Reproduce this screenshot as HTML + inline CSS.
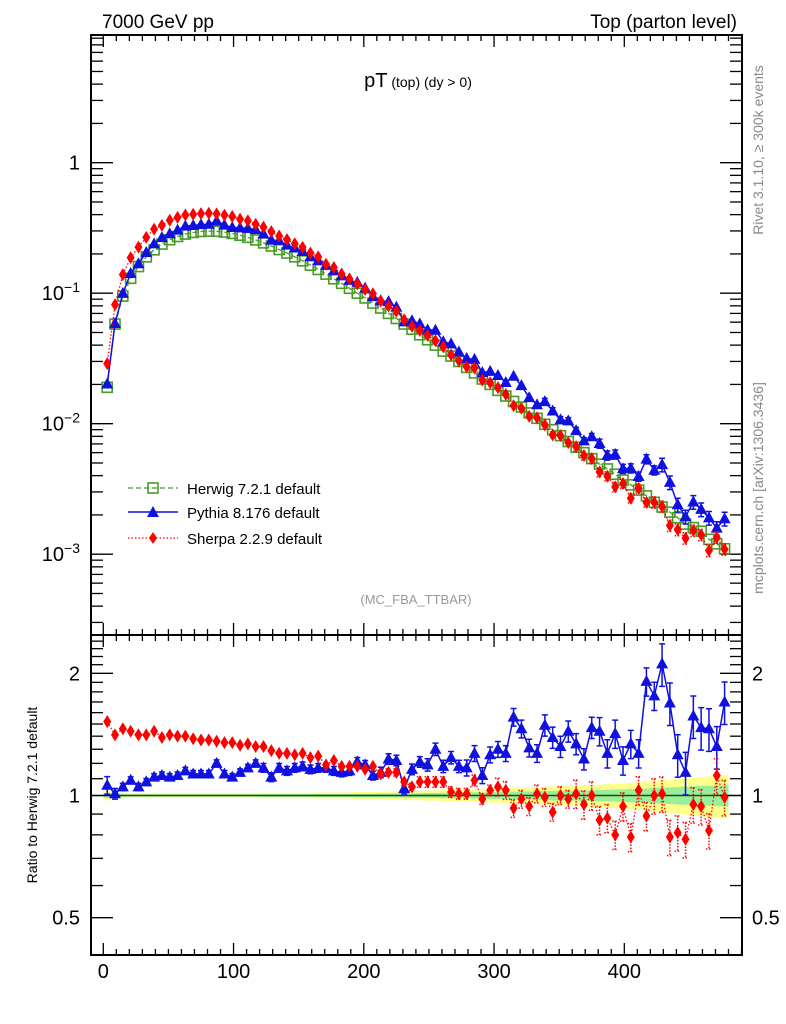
<!DOCTYPE html>
<html><head><meta charset="utf-8"><style>
body{margin:0;background:#fff;}
svg{display:block;font-family:"Liberation Sans",sans-serif;}
</style></head><body>
<svg id="plot" width="786" height="1024" viewBox="0 0 786 1024">
<defs>
<clipPath id="cm"><rect x="91" y="35" width="651" height="600"/></clipPath>
<clipPath id="cr"><rect x="91" y="635" width="651" height="320"/></clipPath>
</defs>
<g id="bands" clip-path="url(#cr)"></g>
<g id="ticks"></g>
<rect x="91" y="35" width="651" height="600" fill="none" stroke="#000" stroke-width="2"/>
<rect x="91" y="635" width="651" height="320" fill="none" stroke="#000" stroke-width="2"/>
<g id="mainSeries" clip-path="url(#cm)"></g>
<g id="ratioSeries" clip-path="url(#cr)"></g>
<text x="102" y="28" font-size="19">7000 GeV pp</text>
<text x="737" y="28" font-size="19" text-anchor="end">Top (parton level)</text>
<text x="418" y="87" text-anchor="middle"><tspan font-size="20">pT</tspan><tspan font-size="14"> (top) (dy &gt; 0)</tspan></text>
<text x="416" y="604" font-size="13" fill="#999" text-anchor="middle">(MC_FBA_TTBAR)</text>
<text transform="translate(763,150) rotate(-90)" font-size="14" fill="#888" text-anchor="middle">Rivet 3.1.10, ≥ 300k events</text>
<text transform="translate(763,488) rotate(-90)" font-size="14" fill="#888" text-anchor="middle">mcplots.cern.ch [arXiv:1306.3436]</text>
<text transform="translate(37,795) rotate(-90)" font-size="14" text-anchor="middle">Ratio to Herwig 7.2.1 default</text>
<g id="legend">
<g>
<line x1="128" y1="488" x2="178" y2="488" stroke="#4a9a28" stroke-width="1.3" stroke-dasharray="5,3"/>
<rect x="148" y="483" width="10" height="10" fill="none" stroke="#4a9a28" stroke-width="1.6"/>
<text x="187" y="494" font-size="15">Herwig 7.2.1 default</text></g>
<g>
<line x1="128" y1="512" x2="178" y2="512" stroke="#1010e0" stroke-width="1.5"/>
<polygon points="153,506 159,517 147,517" fill="#1010e0"/>
<text x="187" y="518" font-size="15">Pythia 8.176 default</text></g>
<g>
<line x1="128" y1="538" x2="178" y2="538" stroke="#f00" stroke-width="1.3" stroke-dasharray="1.5,2"/>
<polygon points="153,532 157,538 153,544 149,538" fill="#f00"/>
<text x="187" y="544" font-size="15">Sherpa 2.2.9 default</text></g>
</g>
</svg>
<script>
const binCenters=[3,9,15,21,27,33,39,45,51,57,63,69,75,81,87,93,99,105,111,117,123,129,135,141,147,153,159,165,171,177,183,189,195,201,207,213,219,225,231,237,243,249,255,261,267,273,279,285,291,297,303,309,315,321,327,333,339,345,351,357,363,369,375,381,387,393,399,405,411,417,423,429,435,441,447,453,459,465,471,477];
const herwigValues=[0.019,0.058,0.095,0.13,0.16,0.19,0.215,0.238,0.257,0.272,0.284,0.292,0.297,0.299,0.298,0.294,0.287,0.278,0.268,0.256,0.243,0.230,0.216,0.203,0.190,0.177,0.164,0.152,0.140,0.129,0.119,0.109,0.100,0.092,0.084,0.077,0.070,0.064,0.058,0.053,0.048,0.044,0.040,0.036,0.033,0.030,0.027,0.0245,0.022,0.020,0.018,0.0163,0.0148,0.0134,0.0121,0.011,0.0099,0.009,0.0081,0.0073,0.0066,0.006,0.0054,0.0049,0.0045,0.0041,0.0037,0.0034,0.0031,0.0028,0.0025,0.0023,0.0021,0.0019,0.0017,0.0016,0.0015,0.0013,0.0012,0.0011];
const herwigErr=[0.012,0.008,0.007,0.006,0.006,0.006,0.006,0.006,0.006,0.006,0.006,0.006,0.006,0.006,0.006,0.006,0.006,0.006,0.006,0.006,0.007,0.007,0.007,0.007,0.007,0.007,0.007,0.008,0.008,0.008,0.008,0.008,0.009,0.009,0.009,0.010,0.010,0.011,0.011,0.012,0.012,0.013,0.013,0.014,0.014,0.015,0.015,0.016,0.016,0.017,0.018,0.019,0.020,0.021,0.021,0.022,0.023,0.024,0.025,0.025,0.026,0.027,0.028,0.029,0.030,0.031,0.032,0.034,0.035,0.037,0.040,0.041,0.043,0.045,0.047,0.049,0.050,0.052,0.054,0.055];
const pythiaRatio=[1.06,1.01,1.05,1.09,1.05,1.08,1.11,1.12,1.11,1.12,1.15,1.13,1.13,1.13,1.20,1.13,1.11,1.14,1.17,1.20,1.17,1.11,1.17,1.15,1.17,1.18,1.16,1.17,1.17,1.15,1.14,1.15,1.21,1.19,1.12,1.14,1.23,1.22,1.04,1.16,1.21,1.19,1.30,1.18,1.24,1.18,1.17,1.27,1.12,1.26,1.30,1.27,1.56,1.46,1.31,1.27,1.49,1.39,1.32,1.44,1.34,1.23,1.47,1.44,1.27,1.42,1.22,1.34,1.27,1.91,1.76,2.11,1.69,1.26,1.14,1.57,1.47,1.46,1.32,1.70];
const pythiaErr=[0.05,0.03,0.02,0.02,0.02,0.02,0.02,0.02,0.02,0.02,0.02,0.02,0.02,0.02,0.02,0.02,0.02,0.02,0.02,0.02,0.025,0.025,0.025,0.025,0.025,0.025,0.025,0.025,0.025,0.025,0.025,0.025,0.025,0.025,0.025,0.03,0.03,0.03,0.03,0.03,0.03,0.035,0.035,0.035,0.035,0.035,0.045,0.045,0.045,0.045,0.045,0.045,0.05,0.05,0.05,0.05,0.06,0.06,0.06,0.06,0.06,0.06,0.06,0.08,0.08,0.08,0.08,0.08,0.08,0.08,0.08,0.12,0.12,0.12,0.12,0.12,0.12,0.12,0.12,0.12];
const sherpaRatio=[1.52,1.41,1.46,1.44,1.41,1.41,1.44,1.39,1.41,1.40,1.40,1.38,1.37,1.37,1.36,1.35,1.35,1.33,1.34,1.32,1.32,1.29,1.27,1.27,1.26,1.27,1.24,1.25,1.19,1.22,1.18,1.18,1.18,1.16,1.18,1.13,1.14,1.14,1.08,1.05,1.08,1.08,1.08,1.08,1.02,1.01,1.01,1.09,0.98,1.03,1.05,1.03,0.93,0.98,0.94,1.01,0.99,0.91,1.00,0.98,1.01,0.95,1.00,0.87,0.88,0.80,0.94,0.79,1.03,0.89,1.00,1.01,0.79,0.81,0.78,0.95,0.94,0.82,1.12,0.99];
const sherpaErr=[0.01,0.01,0.01,0.01,0.01,0.01,0.01,0.01,0.01,0.01,0.01,0.01,0.01,0.01,0.01,0.01,0.01,0.01,0.01,0.01,0.012,0.012,0.012,0.012,0.012,0.012,0.012,0.012,0.015,0.015,0.015,0.015,0.015,0.015,0.015,0.02,0.02,0.02,0.02,0.02,0.03,0.03,0.03,0.03,0.03,0.03,0.03,0.03,0.03,0.03,0.05,0.05,0.05,0.05,0.05,0.05,0.05,0.05,0.05,0.05,0.08,0.08,0.08,0.08,0.08,0.08,0.08,0.08,0.08,0.08,0.1,0.1,0.1,0.1,0.1,0.1,0.1,0.1,0.1,0.1];
const xTickLabels=[0,100,200,300,400];
const mainTickLabels=[["1",0],["10","-1"],["10","-2"],["10","-3"]];
const ratioTickLabels=[2,1,0.5];

const NS="http://www.w3.org/2000/svg";
const X=v=>103.3+1.3025*v;
const YM=val=>162.7-130.5*Math.log10(val);
const YR=r=>795.5-122.2*Math.log2(r);
function mk(tag,attrs,parent){const e=document.createElementNS(NS,tag);for(const k in attrs)e.setAttribute(k,attrs[k]);parent.appendChild(e);return e;}
const ticks=document.getElementById('ticks');
// x ticks
for(let v=-0;v<=490;v+=10){
  const major=v%100===0;const L=major?12:6;const px=X(v);
  for(const [y0,dir] of [[35,1],[635,-1],[635,1],[955,-1]]){
    const t=mk('line',{x1:px,x2:px,y1:y0,y2:y0+dir*L,stroke:'#000','stroke-width':1.3},ticks);
    
    
  }
}
xTickLabels.forEach(v=>{
  const t=mk('text',{x:X(v),y:978,'font-size':20,'text-anchor':'middle'},document.getElementById('plot'));
  t.textContent=v;
  
  
});
// main log y ticks
for(let d=-4;d<=0;d++){
  for(let m=1;m<=9;m++){
    const val=m*Math.pow(10,d);const py=YM(val);
    if(py<35||py>635)continue;
    const L=m===1?22:12;
    for(const [x0,dir] of [[91,1],[742,-1]]){
      const t=mk('line',{x1:x0,x2:x0+dir*L,y1:py,y2:py,stroke:'#000','stroke-width':1.3},ticks);
      
      
    }
  }
}
mainTickLabels.forEach((lab,i)=>{
  const py=YM(Math.pow(10,-i));
  const t=mk('text',{x:80,y:py+7,'font-size':20,'text-anchor':'end'},document.getElementById('plot'));
  if(i===0){t.textContent='1';}else{
    const a=mk('tspan',{},t);a.textContent=lab[0];
    const b=mk('tspan',{dy:-8,'font-size':14},t);b.textContent=lab[1].replace('-','\u2212');
  }
  
  
});
// ratio log ticks
[0.5,0.6,0.7,0.8,0.9,1,1.1,1.2,1.3,1.4,1.5,1.6,1.7,1.8,1.9,2,2.1,2.2,2.3,2.4,2.5].forEach(r=>{
  const py=YR(r);if(py<635||py>955)return;
  const major=(r===0.5||r===1||r===2);const L=major?22:12;
  for(const [x0,dir] of [[91,1],[742,-1]]){
    const t=mk('line',{x1:x0,x2:x0+dir*L,y1:py,y2:py,stroke:'#000','stroke-width':1.3},ticks);
    
    
  }
});
ratioTickLabels.forEach(r=>{
  for(const [x,anc] of [[80,'end'],[752,'start']]){
    const t=mk('text',{x:x,y:YR(r)+7,'font-size':20,'text-anchor':anc},document.getElementById('plot'));
    t.textContent=r;
    
    
  }
});
// bands
const bands=document.getElementById('bands');
function band(k,col,name){
  let up='',dn='';
  binCenters.forEach((v,i)=>{const x0=X(v-3),x1=X(v+3);const e=herwigErr[i]*k;
    up+=`${x0},${YR(1+e)} ${x1},${YR(1+e)} `;dn=`${x1},${YR(1-e)} ${x0},${YR(1-e)} `+dn;});
  const p=mk('polygon',{points:up+dn,fill:col},bands);
  
  
}
band(2.2,'#ffff8c','herwig-band-outer');
band(1.1,'#99f099','herwig-band-inner');
const rl=mk('line',{x1:91,x2:742,y1:YR(1),y2:YR(1),stroke:'#1a4a10','stroke-width':1.6},bands);



function marker(g,type,x,y,col){
  let e;
  if(type==='sq')e=mk('rect',{x:x-5,y:y-5,width:10,height:10,fill:'none',stroke:col,'stroke-width':1.6},g);
  else if(type==='tri')e=mk('polygon',{points:`${x},${y-6.5} ${x+6},${y+4.5} ${x-6},${y+4.5}`,fill:col},g);
  else e=mk('polygon',{points:`${x},${y-6.5} ${x+4},${y} ${x},${y+6.5} ${x-4},${y}`,fill:col},g);
  return e;
}
function series(parentId,vals,errs,Y,col,type,dash,width,name){
  const g=mk('g',{},document.getElementById(parentId));
  
  
  const pts=binCenters.map((v,i)=>`${X(v)},${Y(vals[i])}`).join(' ');
  const pl=mk('polyline',{points:pts,fill:'none',stroke:col,'stroke-width':width},g);
  if(dash)pl.setAttribute('stroke-dasharray',dash);
  
  
  binCenters.forEach((v,i)=>{
    const x=X(v),val=vals[i];
    if(errs){const e=errs[i];const y1=Y(val*(1+e)),y2=Y(val*(1-e));
      if(y2-y1>6){const eb=mk('path',{d:`M${x},${y1}V${y2}M${x-3},${y1}H${x+3}M${x-3},${y2}H${x+3}`,stroke:col,'stroke-width':1.5,fill:'none'},g);
        if(type==='dia')eb.setAttribute('stroke-dasharray','1.5,1.5');
        
        }}
    const m=marker(g,type,x,Y(val),col);
    
    
  });
}
const pythiaMain=herwigValues.map((h,i)=>h*pythiaRatio[i]);
const sherpaMain=herwigValues.map((h,i)=>h*sherpaRatio[i]);
series('mainSeries',herwigValues,null,YM,'#4a9a28','sq','5,3',1.3,'herwig-series');
series('mainSeries',pythiaMain,pythiaErr,YM,'#1010e0','tri',null,1.5,'pythia-series');
series('mainSeries',sherpaMain,sherpaErr,YM,'#f00','dia','1.5,2',1.3,'sherpa-series');
series('ratioSeries',pythiaRatio,pythiaErr,YR,'#1010e0','tri',null,1.5,'pythia-ratio');
series('ratioSeries',sherpaRatio,sherpaErr,YR,'#f00','dia','1.5,2',1.3,'sherpa-ratio');
</script>
</body></html>
